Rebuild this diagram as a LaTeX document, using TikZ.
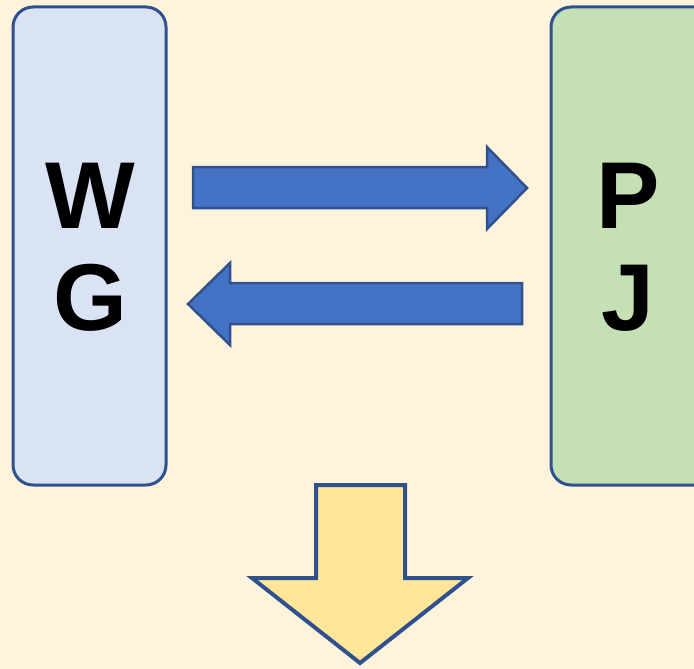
\documentclass[tikz,border=0pt]{standalone}
\usepackage{fontspec}
\setmainfont{Liberation Sans}
\definecolor{bg}{HTML}{FFF4DB}
\definecolor{edge}{HTML}{2F528F}
\definecolor{boxblue}{HTML}{DAE3F3}
\definecolor{boxgreen}{HTML}{C5E0B4}
\definecolor{arrblue}{HTML}{4472C4}
\definecolor{arryellow}{HTML}{FFE699}
\begin{document}
\begin{tikzpicture}[x=1pt,y=-1pt,
  panel/.style={draw=edge,line width=3pt,rounded corners=20pt},
  letter/.style={font=\fontsize{95}{95}\selectfont\bfseries,text=black,inner sep=0pt,anchor=center},
  blockarrow/.style={draw=edge,line width=2.5pt,line join=miter}]
\fill[bg] (0,0) rectangle (694,669);
\useasboundingbox (0,0) rectangle (694,669);
\draw[panel,fill=boxblue] (13,7) rectangle (166,485);
\draw[panel,fill=boxgreen] (551,7) rectangle (720,485);
\node[letter] (w) at (90,196) {W};
\node[letter] (g) at (90,298) {G};
\node[letter] (p) at (628,196) {P};
\node[letter] (j) at (628,298) {J};
\draw[blockarrow,fill=arrblue] (193,167) -- (487,167) -- (487,147) -- (527,188) -- (487,229) -- (487,208) -- (193,208) -- cycle;
\draw[blockarrow,fill=arrblue] (522,283) -- (230,283) -- (230,263) -- (188,304) -- (230,345) -- (230,324) -- (522,324) -- cycle;
\draw[blockarrow,line width=4pt,fill=arryellow] (316,485) -- (405,485) -- (405,578) -- (468,578) -- (360,663) -- (252,578) -- (316,578) -- cycle;
\end{tikzpicture}
\end{document}
